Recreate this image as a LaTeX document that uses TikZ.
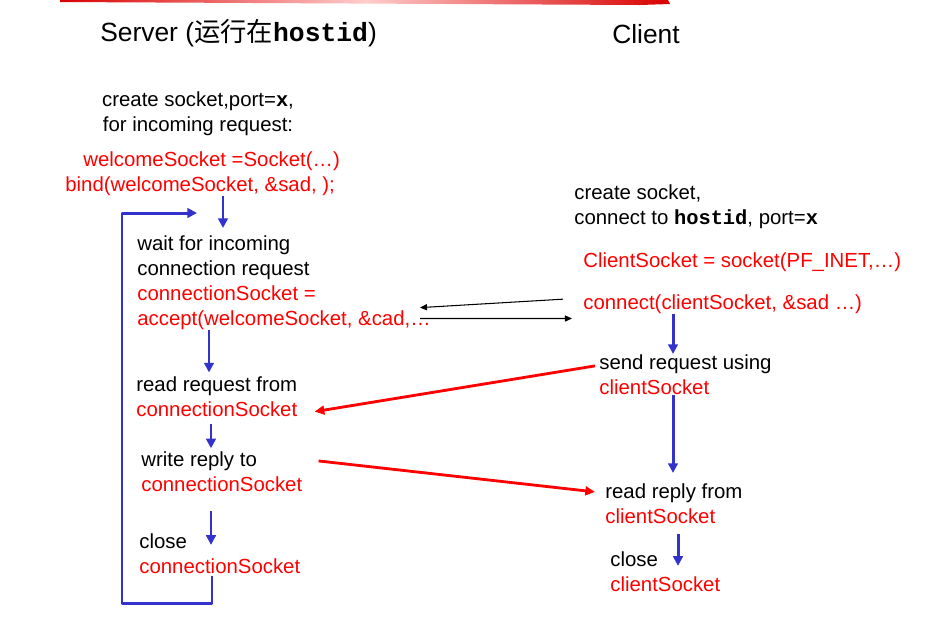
\documentclass[tikz,border=0pt]{standalone}
\usepackage{fontspec}
\setmainfont{Liberation Sans}
\setmonofont{Liberation Mono}
\newfontfamily\cjk{Noto Sans CJK SC}
\usetikzlibrary{arrows.meta}
\definecolor{flowblue}{RGB}{51,51,204}
\newcommand{\code}[1]{\texttt{\bfseries #1}}
\begin{document}
\begin{tikzpicture}[x=0.02cm,y=-0.02cm,>={Triangle[length=5.5pt,width=5.5pt]},line join=round]
	\tikzset{txt/.style={inner sep=0pt,align=left,anchor=base west,font=\fontsize{11.6}{14.2}\selectfont},
		redtxt/.style={txt,text=red},
		title/.style={inner sep=0pt,anchor=base west,font=\fontsize{15}{18}\selectfont},
		flow/.style={->,flowblue,line width=1.7pt},
		msg/.style={->,>={Triangle[length=5.5pt,width=5pt]},red,line width=1.6pt},
		sys/.style={->,>={Triangle[length=4pt,width=3.5pt]},line width=0.6pt}}
	\useasboundingbox (0,0) rectangle (945,630);
	\shade[left color=red!85!black,right color=red!85!black,middle color=red!20] (60,0) -- (668,0) -- (670,4) -- (640,5) -- (60,2) -- cycle;
	% titles (multi-line nodes sit on the baseline of their last line)
	\node[title] (server) at (100,41) {Server ({\cjk 运行在}\code{hostid})};
	\node[title] (client) at (612,43) {Client};
	% server side
	\node[txt,align=center,anchor=base] (listen) at (198,131) {create socket,port=\code{x},\\ for incoming request:};
	\node[redtxt] (welcome) at (83,166) {welcomeSocket =Socket(…)};
	\node[redtxt] (bind) at (65,191) {bind(welcomeSocket, \&sad, );};
	\node[txt] (wait) at (137,325) {wait for incoming\\connection request\\\textcolor{red}{connectionSocket =}\\\textcolor{red}{accept(welcomeSocket, \&cad,…}};
	\node[txt] (read) at (136,416) {read request from\\\textcolor{red}{connectionSocket}};
	\node[txt] (write) at (141,491) {write reply to\\\textcolor{red}{connectionSocket}};
	\node[txt] (close) at (139,573) {close\\\textcolor{red}{connectionSocket}};
	% client side
	\node[txt] (create) at (574,224) {create socket,\\connect to \code{hostid}, port=\code{x}};
	\node[redtxt] (csock) at (583,267) {ClientSocket = socket(PF\_INET,…)};
	\node[redtxt] (connect) at (583,309) {connect(clientSocket, \&sad …)};
	\node[txt] (send) at (599,394) {send request using\\\textcolor{red}{clientSocket}};
	\node[txt] (reply) at (605,523) {read reply from\\\textcolor{red}{clientSocket}};
	\node[txt] (cclose) at (610,591) {close\\\textcolor{red}{clientSocket}};
	% control flow
	\draw[flow,shorten >=4pt] (bind.south -| 223,0) -- (wait.north -| 223,0);
	\draw[flow,shorten >=2pt] (wait.south -| 209,0) -- (read.north -| 209,0);
	\draw[flow,shorten <=4pt,shorten >=1.5pt] (read.south -| 211,0) -- (write.north -| 211,0);
	\draw[flow,shorten <=10.8pt,shorten >=-6.8pt] (write.south -| 211,0) -- (close.north -| 211,0);
	\draw[flow] ([yshift=-1.5pt]close.south -| 212,0) -- (212,603) -| (122,213) -- (197,213);
	\draw[flow] (connect.south -| 673,0) -- (send.north -| 673,0);
	\draw[flow,shorten >=5.7pt] (send.south -| 673,0) -- (reply.north -| 673,0);
	\draw[flow,shorten <=5.7pt,shorten >=-8.5pt] (reply.south -| 678,0) -- (cclose.north -| 678,0);
	% messages
	\draw[sys] ([xshift=-11.4pt,yshift=2.6pt]connect.west) -- ([xshift=-6.3pt,yshift=12.5pt]wait.south east);
	\draw[sys] ([xshift=-6.3pt,yshift=6.3pt]wait.south east) -- ([xshift=-6.3pt,yshift=-2.8pt]connect.south west);
	\draw[msg] ([xshift=-2.3pt,yshift=-6.8pt]send.north west) -- ([xshift=9.7pt,yshift=2.8pt]read.south east);
	\draw[msg] ([xshift=9.1pt,yshift=-5.7pt]write.north east) -- ([xshift=-5.7pt,yshift=-5.1pt]reply.north west);
\end{tikzpicture}
\end{document}
